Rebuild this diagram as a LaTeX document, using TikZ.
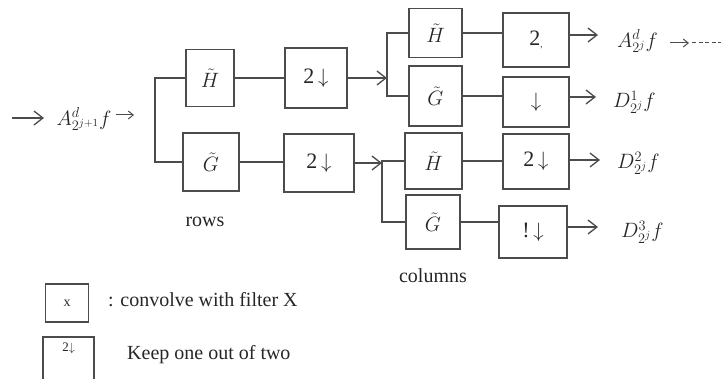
\documentclass[tikz,border=0pt]{standalone}
\usepackage{fontspec}
\setmainfont{Liberation Serif}
\usetikzlibrary{arrows.meta}
\begin{document}
\begin{tikzpicture}[x=1pt,y=-1pt,
  ln/.style={draw=black!70, line width=1.5pt},
  box/.style={ln, rectangle, inner sep=0pt, text=black!85, font=\fontsize{22}{24}\selectfont},
  arr/.style={ln, -{Straight Barb[length=9pt,width=14pt,line width=1.3pt]}},
  small arr/.style={draw=black!70, line width=1pt, -{Straight Barb[length=5pt,width=8pt,line width=1pt]}},
  lab/.style={inner sep=0pt, text=black!85, font=\fontsize{22}{24}\selectfont},
  txt/.style={inner sep=0pt, text=black!85, font=\fontsize{20}{22}\selectfont}]
\useasboundingbox (0,0) rectangle (721,379);
\clip (0,0) rectangle (721,379);

% input
\node[lab] (in) at (84,119) {$A^d_{2^{j+1}}f$};
\coordinate (inS) at (12,118);
\coordinate (inE) at (44,118);
\draw[arr] (inS) -- (inE);
\coordinate (inA) at (116,115);
\coordinate (inB) at (134,115);
\draw[small arr] (inA) -- (inB);

% row filters
\node[box, minimum width=48, minimum height=57] (hR) at (210,78) {$\tilde H$};
\node[box, minimum width=56, minimum height=58] (gR) at (211,162) {$\tilde G$};
\coordinate (rb) at (155,120);
\draw[ln] (hR.west) -| (rb) |- (gR.west);

% row downsampling
\node[box, minimum width=62, minimum height=60] (dR1) at (316,78) {2\,$\downarrow$};
\node[box, minimum width=70, minimum height=58] (dR2) at (319,163) {2\,$\downarrow$};
\draw[ln] (hR.east) -- (hR.east -| dR1.west);
\draw[ln] (gR.east) -- (gR.east -| dR2.west);
\node[txt] (rows) at (205,222) {rows};

% column filters
\node[box, minimum width=53, minimum height=49] (hC1) at (435.5,33) {$\tilde H$};
\node[box, minimum width=53, minimum height=60] (gC1) at (435.5,96) {$\tilde G$};
\node[box, minimum width=57, minimum height=56] (hC2) at (433.5,161) {$\tilde H$};
\node[box, minimum width=54, minimum height=54] (gC2) at (433,222) {$\tilde G$};
\coordinate (cb1) at (387,78);
\coordinate (cb2) at (382,163);
\draw[ln] (hC1.west) -| (cb1) |- (gC1.west);
\draw[ln] (hC2.west) -| (cb2) |- (gC2.west);
\draw[arr] (dR1.east) -- (cb1);
\draw[arr] (dR2.east) -- (cb2);
\node[txt] (cols) at (433,276) {columns};

% column downsampling
\node[box, minimum width=66, minimum height=54] (dC1) at (536,40) {2\raisebox{-2pt}{\fontsize{9}{9}\selectfont,}};
\node[box, minimum width=66, minimum height=50] (dC2) at (536,102) {$\downarrow$};
\node[box, minimum width=66, minimum height=55] (dC3) at (536,161.5) {2\,$\downarrow$};
\node[box, minimum width=68, minimum height=52] (dC4) at (533,232) {!\,$\downarrow$};
\draw[ln] (hC1.east) -- (hC1.east -| dC1.west);
\draw[ln] (gC1.east) -- (gC1.east -| dC2.west);
\draw[ln] (hC2.east) -- (hC2.east -| dC3.west);
\draw[ln] (gC2.east) -- (gC2.east -| dC4.west);

% outputs
\coordinate (o1) at (598,35);
\coordinate (o2) at (596,97);
\coordinate (o3) at (600,160);
\coordinate (o4) at (598,227);
\draw[arr] (dC1.east |- o1) -- (o1);
\draw[arr] (dC2.east |- o2) -- (o2);
\draw[arr] (dC3.east |- o3) -- (o3);
\draw[arr] (dC4.east |- o4) -- (o4);
\node[lab, anchor=west] (lA) at (617,41) {$A^d_{2^j}f$};
\node[lab, anchor=west] (l1) at (613,102) {$D^1_{2^j}f$};
\node[lab, anchor=west] (l2) at (617,163) {$D^2_{2^j}f$};
\node[lab, anchor=west] (l3) at (621,232) {$D^3_{2^j}f$};
\coordinate (nxA) at (670,43);
\coordinate (nxB) at (689,43);
\coordinate (nxC) at (721,43);
\draw[small arr] (nxA) -- (nxB);
\draw[draw=black!70, line width=1pt, dash pattern=on 4pt off 2.5pt] ([xshift=3]nxB) -- (nxC);

% legend
\node[box, minimum width=43, minimum height=38, font=\fontsize{14}{16}\selectfont] (kx) at (67,303) {x};
\node[txt, anchor=west] (kxt) at (108,300) {: convolve with filter X};
\node[box, minimum width=51, minimum height=46, font=\fontsize{13}{15}\selectfont] (kd) at (68.5,360) {\raisebox{26pt}{2$\downarrow$}};
\node[txt, anchor=west] (kdt) at (127,355) {Keep one out of two};
\end{tikzpicture}
\end{document}
